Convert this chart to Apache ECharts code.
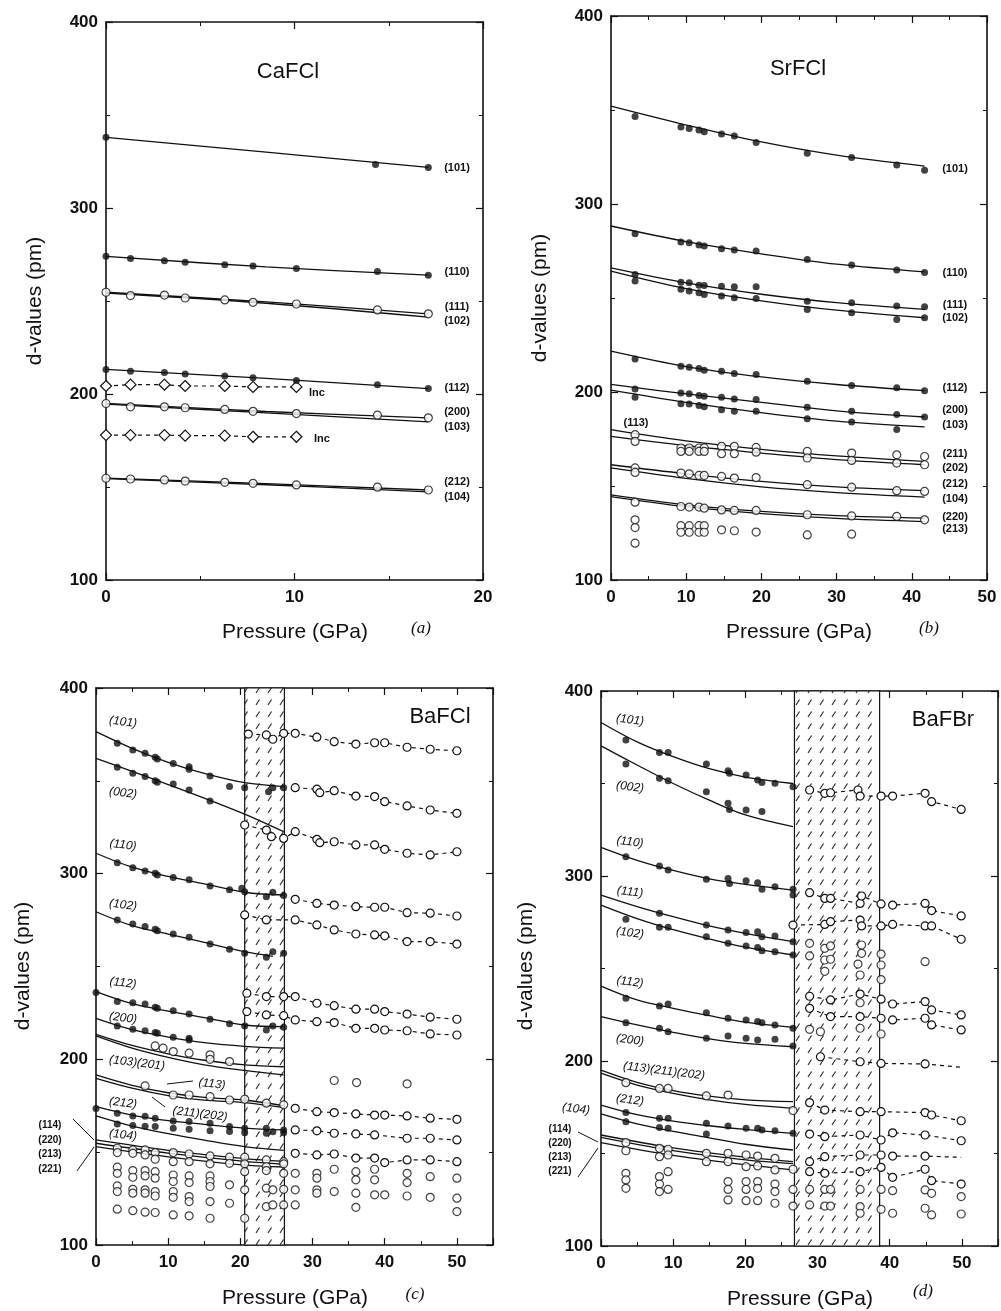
<!DOCTYPE html>
<html><head><meta charset="utf-8">
<script src="https://cdn.jsdelivr.net/npm/echarts@6/dist/echarts.min.js"></script>
<style>html,body{margin:0;padding:0;background:#fff}#c{width:1001px;height:1311px}</style>
</head><body><div id="c"></div>
<script>
// ---------------- Panel (a) CaFCl ----------------
const xA = [0, 1.3, 3.1, 4.2, 6.3, 7.8, 10.1, 14.4, 17.1];
const a101 = [[0, 338], [14.3, 323.4], [17.1, 321.8]];
const a110 = [274, 272.9, 271.6, 270.8, 269.5, 268.8, 267.5, 265.9, 263.9];
const a111 = [254.7, 252.9, 253.2, 251.6, 250.6, 249.3, 248.4, 245.2, 243.1];
const a112 = [213.2, 212.2, 211.5, 210.8, 209.7, 208.8, 207.3, 205, 202.9];
const a200 = [194.9, 193.1, 193.1, 192.6, 191.7, 190.7, 189.5, 188.6, 187.2];
const a212 = [154.7, 154.3, 153.8, 153.2, 152.5, 152, 151.1, 149.9, 148.4];
const xInc = [0, 1.3, 3.1, 4.2, 6.3, 7.8, 10.1];
const aInc1 = [204.3, 205, 205, 204.3, 204.3, 203.8, 203.8];
const aInc2 = [177.9, 177.9, 177.9, 177.6, 177.6, 177, 177];
const aFits = [
  [[0, 338], [8.5, 330], [17.1, 321.8]],
  [[0, 274], [8.5, 268.3], [17.1, 263.9]],
  [[0, 254.7], [8.5, 249.5], [17.1, 243.1]],
  [[0, 254.3], [8.5, 248.8], [17.1, 241.3]],
  [[0, 213.2], [8.5, 208.4], [17.1, 202.9]],
  [[0, 195], [8.5, 190.6], [17.1, 187.2]],
  [[0, 194.6], [8.5, 189.8], [17.1, 185]],
  [[0, 154.8], [8.5, 151.8], [17.1, 148.4]],
  [[0, 154.5], [8.5, 151.2], [17.1, 147.4]]
];

// ---------------- Panel (b) SrFCl ----------------
const xB = [3.2, 9.3, 10.4, 11.7, 12.4, 14.7, 16.4, 19.3, 26.1, 32, 38, 41.7];
const b101 = [346.6, 341.0, 340.2, 339.4, 338.4, 337.3, 336.2, 332.7, 327, 324.7, 320.8, 318];
const b110 = [284.2, 279.8, 279.4, 278.2, 277.6, 276.2, 275.5, 275, 270.5, 267.5, 264.9, 263.5];
const b111 = [262.5, 258.4, 258.1, 256.8, 256.7, 256.3, 256, 256, 248.3, 247.5, 245.7, 245.3];
const b102 = [259, 254.6, 253.7, 252.8, 251.9, 251, 250.1, 249.8, 243.9, 242.1, 238.6, 239.5];
const b112 = [217.6, 213.7, 213.2, 212.5, 211.6, 211, 209.8, 209.3, 205.7, 203.4, 202.2, 200.7];
const b200 = [201.6, 199.5, 199.1, 198.2, 197.7, 197.2, 196.3, 196, 191.9, 189.7, 188, 186.7];
const b103 = [197.2, 193.8, 193.6, 192.8, 192.1, 190.6, 189.7, 189.7, 185.8, 184.1, 180];
const b211 = [177.3, 170.2, 170.2, 170.2, 170.2, 171.1, 171.1, 170.5, 168.4, 167.5, 166.6, 165.7];
const b202 = [173.7, 168.4, 168.4, 168.4, 168.4, 167.2, 167.2, 168, 164.9, 163.6, 162.2, 161.3];
const b212 = [159.6, 156.9, 156.5, 155.6, 155.6, 155.1, 154.2, 154.5, 150.7, 149.4, 147.5, 147.1];
const b220 = [141.4, 139.1, 138.8, 138.8, 138.2, 137.3, 137, 137, 134.7, 134.1, 133.8, 132];
const bExtra = [[3.2, 157.2], [3.2, 132], [3.2, 127.9], [3.2, 119.6], [9.3, 128.9], [9.3, 125.4], [10.4, 128.9], [10.4, 125.4],
  [11.7, 128.9], [11.7, 125.4], [12.4, 128.9], [12.4, 125.4], [14.7, 126.7], [16.4, 126.2], [19.3, 125.5], [26.1, 124], [32, 124.4]];
const bFits = [
  [[0, 352], [10, 342], [20, 333], [30, 326], [41.7, 320.2]],
  [[0, 288.3], [10, 280], [20, 273.5], [30, 268], [41.7, 263.9]],
  [[0, 266], [10, 258], [20, 252], [30, 247.5], [41.7, 244]],
  [[0, 264.3], [10, 255], [20, 248.5], [30, 243.5], [41.7, 239.5]],
  [[0, 221.7], [10, 213.5], [20, 208], [30, 204], [41.7, 200.7]],
  [[0, 204], [10, 199], [20, 194.5], [30, 190], [41.7, 186.7]],
  [[0, 201], [10, 194.5], [20, 189], [30, 184.5], [41.7, 181.4]],
  [[0, 180], [10, 174], [20, 169.5], [30, 166], [41.7, 163.1]],
  [[0, 176.4], [10, 171.5], [20, 167.5], [30, 164], [41.7, 161.3]],
  [[0, 161.3], [10, 156.5], [20, 152.5], [30, 149.5], [41.7, 147.5]],
  [[0, 159.6], [10, 154], [20, 149.5], [30, 146.5], [41.7, 144.1]],
  [[0, 145.3], [10, 140], [20, 136.5], [30, 134.2], [41.7, 132.9]],
  [[0, 144.4], [10, 139], [20, 135.3], [30, 132.8], [41.7, 131.1]]
];

// ---------------- Panel (c) BaFCl ----------------
const bandC = [20.6, 26.1];
const c101 = [[2.95, 370.2], [5.1, 366.6], [6.8, 364.8], [8.2, 362.7], [8.5, 361.8], [10.7, 359.4], [12.9, 357.6], [12.9, 356.2], [15.8, 352.6], [18.5, 346.9], [20.6, 346.3], [23.9, 344.1], [24.5, 346.3], [26, 346.3]];
const c002 = [[2.95, 357.3], [5.1, 354.1], [6.8, 352.3], [8.2, 350.1], [8.5, 349.2], [10.7, 348.3], [12.9, 345.1], [15.8, 339.1]];
const c110 = [[2.95, 305.9], [5.1, 303.2], [6.8, 301.5], [8.2, 300.2], [8.5, 299.3], [10.7, 297.9], [12.9, 296.7], [15.8, 293.4], [18.5, 291.3], [20.2, 292.1], [20.6, 290.3], [23.6, 287.6], [24.5, 290], [26, 288.2]];
const c102 = [[2.95, 275.1], [5.1, 272.9], [6.8, 271.5], [8.2, 270.1], [8.5, 269.3], [10.7, 267.5], [12.9, 265.7], [15.8, 262.1], [18.5, 259.3], [20.6, 257.1], [23.6, 255], [24.5, 257.9], [26, 257.1]];
const c112 = [[0, 236], [2.95, 231.1], [5.1, 230.5], [6.8, 229.8], [8.2, 228], [8.5, 227.5], [10.7, 226.1], [12.9, 224.4], [15.8, 221.6], [18.5, 219.1], [20.6, 218], [23.6, 215.8], [24.5, 218], [26, 217.3]];
const c200 = [[2.95, 218], [5.1, 216.2], [6.8, 215.4], [8.2, 214.4], [8.5, 214], [10.7, 211.9], [12.9, 211.3], [12.9, 210.4]];
const c212 = [[0, 173.5], [2.95, 170.9], [5.1, 169.5], [6.8, 169.3], [8.2, 168.3], [10.7, 166.8], [12.9, 166.5], [15.8, 165.6], [18.5, 163.8], [20.6, 162.9], [23.6, 162.9], [26, 162]];
const c104 = [[2.95, 165.2], [5.1, 164.3], [6.8, 164], [8.2, 163.8], [10.7, 162.9], [12.9, 162.3], [15.8, 161.6], [18.5, 161.1], [20.6, 160.5], [23.6, 160.2], [24.5, 161], [26, 160.5]];
const cOpen = [[8.2, 207.2], [9.3, 206], [10.7, 204.2], [12.9, 203.3], [15.8, 202.4], [15.8, 200], [18.5, 198.8],
  [33, 188.6], [36.1, 187.5], [43.1, 186.8],
  [6.8, 185.7], [10.7, 180.8], [12.9, 180.8], [15.8, 179.9], [18.5, 178.1], [20.6, 178.5], [23.6, 176.4], [26, 175.5],
  [2.95, 152.1], [5.1, 151.2], [6.8, 151.2], [8.2, 149.8], [10.7, 149.8], [12.9, 149], [15.8, 148], [18.5, 147.3], [20.6, 147.3], [23.6, 145.8], [26, 144.9],
  [2.95, 149.8], [5.1, 149.4], [6.8, 148.5], [8.2, 146.2], [10.7, 144.9], [12.9, 144.9], [15.8, 143.7], [18.5, 144], [20.6, 143.7], [23.6, 142.2], [26, 143.7]];
const cLow = [
  [2.95, 141.9], [2.95, 138.6], [2.95, 131.8], [2.95, 128.8], [2.95, 119.3],
  [5.1, 140.1], [5.1, 136.5], [5.1, 130], [5.1, 127.9], [5.1, 118.5],
  [6.8, 140.1], [6.8, 137.2], [6.8, 129.7], [6.8, 127.9], [6.8, 117.7],
  [8.2, 139.5], [8.2, 136], [8.2, 128.8], [8.2, 126.4], [8.2, 117.5],
  [10.7, 137.7], [10.7, 134.2], [10.7, 128.8], [10.7, 125.7], [10.7, 116.2],
  [12.9, 137.2], [12.9, 133.6], [12.9, 126.1], [12.9, 123.4], [12.9, 115.7],
  [15.8, 137.2], [15.8, 134.2], [15.8, 131.5], [15.8, 123.4], [15.8, 114.4],
  [18.5, 132.4], [18.5, 122.5], [20.6, 139.5], [20.6, 129.7], [20.6, 114.4],
  [23.6, 140.1], [23.6, 130.6], [23.6, 120.7], [24.5, 129.7], [24.5, 121.6],
  [26, 138.6], [26, 130], [26, 121.6], [27.6, 138.6], [27.6, 129.7], [27.6, 121.6],
  [30.6, 138.6], [30.6, 136], [30.6, 129.7], [30.6, 127.9], [33, 140.8], [33, 128.8],
  [36, 139.5], [36, 135.1], [36, 127.9], [36, 120.3], [38.6, 140.8], [38.6, 135.1], [38.6, 127], [40, 127],
  [43.1, 138.6], [43.1, 133.6], [43.1, 126.4], [46.3, 136.8], [46.3, 125.7], [50, 136], [50, 125.2], [50, 118]];
const cDash = [
  [[21.1, 375.2], [23.6, 374.7], [24.5, 372.4], [26, 375.6], [27.6, 375.6], [30.6, 373.5], [33, 371.1], [36, 369.8], [38.6, 370.5], [40, 370.5], [43.1, 368.1], [46.3, 367], [50, 366.2]],
  [[27.6, 346.3], [30.6, 345.5], [31, 343.6], [33, 344.7], [36, 341.8], [38.6, 341.5], [40, 338.8], [43.1, 336.5], [46.3, 334.3], [50, 332.5]],
  [[20.6, 326.2], [23.6, 323.5], [24.3, 319.9], [26, 319], [27.6, 322.6], [30.6, 318.5], [31, 316.7], [33, 317.2], [36, 315.5], [38.6, 315.5], [40, 313.1], [43.1, 311], [46.3, 310.1], [50, 311.8]],
  [[27.6, 286.2], [30.6, 284], [33, 283.1], [36, 282.2], [38.6, 281.9], [40, 281.9], [43.1, 279], [46.3, 278.7], [50, 277.2]],
  [[20.6, 277.8], [23.6, 275.1], [27.6, 275.1], [30.6, 272.4], [33, 269.7], [36, 267.5], [38.6, 267], [40, 266.5], [43.1, 263.4], [46.3, 263.4], [50, 262.1]],
  [[20.9, 235.6], [23.6, 233.8], [26, 233.8], [27.6, 233.8], [30.6, 230.2], [33, 228.9], [36, 227], [38.6, 227], [40, 225.7], [43.1, 224.4], [46.3, 222.7], [50, 221.6]],
  [[20.9, 225.7], [23.6, 223.9], [26, 223.5], [27.6, 221.2], [30.6, 220.3], [33, 219.8], [36, 216.7], [38.6, 216.7], [40, 215.8], [43.1, 215.4], [46.3, 213.7], [50, 213.1]],
  [[27.6, 173.6], [30.6, 171.8], [33, 171.3], [36, 170.6], [38.6, 170], [40, 170], [43.1, 169.5], [46.3, 168.3], [50, 167.7]],
  [[27.6, 162], [30.6, 161.5], [33, 160.2], [36, 159.8], [38.6, 159.3], [43.1, 157.5], [46.3, 157.5], [50, 156.6]],
  [[27.6, 149.4], [30.6, 148.5], [33, 149], [36, 146.8], [38.6, 146.8], [40, 144.4], [43.1, 145.8], [46.3, 145.8], [50, 144.9]]
];
const cFits = [
  [[0, 376.5], [5, 367.5], [10, 360], [15, 354], [20.6, 349], [26, 346.9]],
  [[0, 362.1], [10, 348], [20, 333], [26, 322.6]],
  [[0, 311], [5, 303.5], [10, 298.5], [15, 294.5], [20.6, 290], [26, 288.5]],
  [[0, 279.5], [5, 272], [10, 267.5], [15, 263], [20.6, 258], [24.5, 255.5]],
  [[0, 236.5], [5, 230], [10, 226], [15, 222.5], [20.6, 218.5], [26, 217.6]],
  [[0, 222.1], [5, 216], [10, 212], [15, 209], [20.6, 207], [26, 206]],
  [[0, 213.5], [5, 207.5], [10, 203], [15, 199.5], [20.6, 197], [26, 196]],
  [[0, 212.6], [5, 206], [10, 201], [15, 197], [20.6, 194], [26, 191.6]],
  [[0, 191.6], [5, 186], [10, 182], [15, 179.5], [20.6, 178.1], [26, 175]],
  [[0, 189.8], [5, 184.5], [10, 180.5], [15, 178], [20.6, 176.7], [26, 174]],
  [[0, 174.5], [5, 170], [10, 167], [15, 165], [20.6, 163], [26, 162]],
  [[0, 169.5], [5, 164], [10, 160], [15, 156.5], [20.6, 153], [26, 151]],
  [[0, 156.6], [10, 151], [20.6, 146.5], [26, 145]],
  [[0, 154.8], [10, 149.5], [20.6, 145], [26, 143.5]],
  [[0, 153], [10, 147.5], [20.6, 143], [26, 142]]
];

// ---------------- Panel (d) BaFBr ----------------
const bandD = [26.8, 38.6];
const d101 = [[3.45, 373.5], [8.1, 366.7], [9.3, 366.7], [14.6, 360.5], [17.6, 356.9], [17.8, 355.5], [20.1, 354.6], [21.7, 351.9], [22.3, 350.5], [24.1, 350.1], [26.6, 348.3]];
const d002 = [[3.45, 360.5], [8.1, 352.8], [9.3, 351.5], [14.6, 345.6], [17.6, 339.3], [17.8, 336], [20.1, 335.7], [22.3, 334.8]];
const d110 = [[3.45, 310.4], [8.1, 305.4], [9.3, 303.2], [14.6, 298.2], [17.6, 298.7], [17.8, 296], [20.1, 297.5], [21.7, 296.4], [22.3, 292.8], [24.1, 294.2], [26.6, 292.8], [26.6, 289.7]];
const d111 = [[8.1, 279.8], [14.6, 273.5], [17.6, 270.8], [20.1, 269.4], [21.7, 269.9], [22.3, 267.2], [24.1, 267.6], [26.6, 264.5]];
const d102 = [[3.45, 276.6], [8.1, 272.3], [9.3, 272.3], [14.6, 267.2], [17.6, 263.6], [20.1, 262.2], [21.7, 261.4], [22.3, 259.6], [24.1, 259.1], [26.6, 257.3]];
const d112 = [[3.45, 233.9], [8.1, 229.7], [9.3, 230.8], [14.6, 226.1], [17.6, 223.1], [20.1, 222.2], [21.7, 221.3], [22.3, 220.7], [24.1, 219.5], [26.6, 217.7]];
const d200 = [[3.45, 220.7], [8.1, 217.7], [9.3, 215.8], [14.6, 212.3], [17.6, 213.5], [20.1, 212.3], [21.7, 211.4], [24.1, 211.7], [26.6, 208.1]];
const d212 = [[3.45, 172.1], [8.1, 169], [9.3, 169], [14.6, 166.3], [17.6, 164.9], [20.1, 163.6], [21.7, 163.6], [22.3, 162.7], [24.1, 162.3], [26.6, 160.9]];
const d104 = [[3.45, 167.2], [8.1, 164.1], [9.3, 163.6], [14.6, 160.5]];
const dOpen = [[28.9, 263.6], [28.9, 256.8], [31, 260.9], [31.8, 262.2], [31, 254.6], [31.8, 255], [36.1, 262.7], [36.1, 258.2], [35.6, 252.4], [38.8, 257.8], [38.8, 251.9], [44.9, 253.7],
  [31, 248.5], [35.9, 246.5], [38.8, 244],
  [28.9, 217.1], [30.4, 215.8], [35.9, 217.7], [38.8, 214.6], [35.9, 231.5],
  [3.45, 188.3], [8.1, 185.2], [9.3, 185.2], [14.6, 181.1], [17.6, 181.6], [26.6, 173.2],
  [3.45, 155.9], [3.45, 151.5], [8.1, 152.8], [8.1, 148.3], [9.3, 152.3], [9.3, 149.2], [14.6, 150.1], [14.6, 145.6], [17.6, 150.1], [17.6, 145.6],
  [20.1, 149.2], [20.1, 142.9], [21.7, 148.6], [21.7, 143.3], [24.1, 147.4], [24.1, 141.1], [26.6, 141.5]];
const dLow = [
  [3.45, 139.3], [3.45, 135.7], [3.45, 131.2], [8.1, 137.5], [8.1, 133.5], [8.1, 129.4], [9.3, 140.2], [9.3, 130.6],
  [17.6, 134.8], [17.6, 130.6], [17.6, 124.9], [20.1, 134.8], [20.1, 130.6], [20.1, 124.5], [21.7, 134.8], [21.7, 131.2], [21.7, 124.5],
  [24.1, 133.5], [24.1, 129.4], [24.1, 123.1], [26.6, 130.6], [26.6, 121.6], [28.9, 130.6], [28.9, 122.2], [31, 130.6], [31, 121.6],
  [31.8, 130.6], [31.8, 121.6], [35.9, 130.6], [35.9, 121.3], [35.9, 117.7], [38.8, 130.6], [38.8, 119.8], [40.4, 129.9], [40.4, 117.7],
  [44.9, 130.3], [44.9, 120.4], [45.8, 128.5], [45.8, 116.8], [49.9, 126.7], [49.9, 117.3]];
const dDash = [
  [[28.9, 346.5], [31, 344.7], [31.8, 345], [35.6, 346.5], [35.9, 343.2], [38.8, 343.2], [40.4, 343.2], [44.9, 344.7], [45.8, 340.2], [49.9, 336]],
  [[28.9, 291], [31, 287.9], [31.8, 287.9], [35.9, 285.2], [36.1, 289.2], [38.8, 284.9], [40.4, 284.3], [44.9, 285.2], [45.8, 281.3], [49.9, 278.4]],
  [[26.6, 273.5], [31, 273.8], [31.8, 275.3], [35.9, 276.2], [36.1, 273], [38.8, 273], [40.4, 273.8], [44.9, 273], [45.8, 273], [49.9, 265.8]],
  [[28.9, 235], [31.8, 233], [35.9, 236.2], [38.8, 233.4], [40.4, 230.8], [44.9, 232.1], [45.8, 227.6], [49.9, 224.9]],
  [[28.9, 228.5], [31.8, 224], [35.9, 224], [38.8, 223.1], [40.4, 222.2], [44.9, 223.1], [45.8, 219.5], [49.9, 216.8]],
  [[30.4, 202.3], [35.9, 199.6], [38.8, 198.7], [44.9, 198.4], [49.9, 196.6, 0]],
  [[28.9, 177.5], [31, 173.5], [35.9, 172.6], [38.8, 172.6], [44.9, 172.1], [45.8, 170.8], [49.9, 167.7]],
  [[28.9, 160.5], [31, 159.1], [35.9, 160], [38.8, 157.3], [40.4, 161.2], [44.9, 160], [49.9, 156.9]],
  [[28.9, 145.6], [31, 148.3], [35.9, 149.2], [38.8, 149.2], [40.4, 148.6], [44.9, 148.6], [49.9, 147.9, 0]],
  [[28.9, 140.2], [31, 139.3], [35.9, 140.2], [38.8, 142.5], [40.4, 137.1], [44.9, 141.5], [45.8, 135.3], [49.9, 133.5]]
];
const dFits = [
  [[0, 383], [5, 372.5], [10, 364.5], [15, 358], [20, 353.5], [26.6, 350]],
  [[0, 370.3], [5, 360], [10, 350], [15, 341], [20, 333], [26.6, 326.7]],
  [[0, 315.5], [5, 308.5], [10, 303], [15, 298.5], [20, 295.5], [26.6, 292.4]],
  [[0, 289.7], [5, 283.5], [10, 278], [15, 273], [20, 269], [26.6, 264.5]],
  [[0, 284.3], [5, 277], [10, 271], [15, 266], [20, 261.5], [26.6, 257.3]],
  [[0, 240.5], [5, 233], [10, 228.5], [15, 224.5], [20, 221], [26.6, 218.2]],
  [[0, 224], [5, 219.5], [10, 215.5], [15, 212], [20, 209.5], [26.6, 207.7]],
  [[0, 195.1], [5, 188.5], [10, 184], [15, 181], [20, 179], [26.6, 178]],
  [[0, 193.4], [5, 187], [10, 182.5], [15, 179], [20, 176.5], [26.6, 174.4]],
  [[0, 176.2], [5, 171], [10, 167.5], [15, 165], [20, 163], [26.6, 160.9]],
  [[0, 171.4], [5, 166], [10, 162], [15, 158.5], [20, 155], [26.6, 151.9]],
  [[0, 160], [10, 153], [20, 148], [26.6, 145.6]],
  [[0, 158.7], [10, 151.5], [20, 146.5], [26.6, 144.5]],
  [[0, 155.9], [10, 149], [20, 144], [26.6, 141.1]]
];

// ---------------- helpers ----------------
const zip = (xs, ys) => ys.map((y, i) => [xs[i], y]);
const INK = '#111';
const S = [];
function ax(p) { return { xAxisIndex: 2 * p, yAxisIndex: 2 * p }; }
function fit(p, d) {
  S.push(Object.assign({ type: 'line', data: d, smooth: 0.35, symbol: 'none', silent: true, z: 2,
    lineStyle: { color: INK, width: 1.3 } }, ax(p)));
}
function dots(p, d, size) {
  S.push(Object.assign({ type: 'scatter', data: d, symbol: 'circle', symbolSize: size || 7, z: 5,
    itemStyle: { color: INK } }, ax(p)));
}
function rings(p, d, size) {
  S.push(Object.assign({ type: 'scatter', data: d, symbol: 'circle', symbolSize: size || 8, z: 4,
    itemStyle: { color: '#fff', borderColor: INK, borderWidth: 1.2 } }, ax(p)));
}
function dashed(p, d, sym, size) {
  const data = d.map(v => v.length > 2 ? { value: [v[0], v[1]], symbol: 'none' } : v);
  S.push(Object.assign({ type: 'line', data: data, symbol: sym || 'circle', symbolSize: size || 8, showAllSymbol: true, z: 3,
    itemStyle: { color: '#fff', borderColor: INK, borderWidth: 1.2 },
    lineStyle: { color: INK, width: 1.2, type: [4, 4] } }, ax(p)));
}

// hatch pattern
const pc = document.createElement('canvas'); pc.width = 12; pc.height = 12;
const g2 = pc.getContext('2d'); g2.fillStyle = '#fff'; g2.fillRect(0, 0, 12, 12);
g2.strokeStyle = '#222'; g2.lineWidth = 1.1; g2.beginPath(); g2.moveTo(4, 9); g2.lineTo(7.5, 3.5); g2.stroke();
function band(p, b) {
  S.push(Object.assign({ type: 'line', data: [[b[0], 100]], symbol: 'none', lineStyle: { opacity: 0 }, z: 1, silent: true,
    markArea: { silent: true, itemStyle: { color: { image: pc, repeat: 'repeat' }, borderColor: INK, borderWidth: 1.2 },
      data: [[{ xAxis: b[0] }, { xAxis: b[1] }]] } }, ax(p)));
}

// ---- panel a series
aFits.forEach(f => fit(0, f));
dots(0, a101); dots(0, zip(xA, a110)); dots(0, zip(xA, a112));
rings(0, zip(xA, a111)); rings(0, zip(xA, a200)); rings(0, zip(xA, a212));
dashed(0, zip(xInc, aInc1), 'diamond', 11); dashed(0, zip(xInc, aInc2), 'diamond', 11);
// ---- panel b
bFits.forEach(f => fit(1, f));
[b101, b110, b111, b102, b112, b200].forEach(v => dots(1, zip(xB, v)));
dots(1, zip(xB, b103));
[b211, b202, b212, b220].forEach(v => rings(1, zip(xB, v)));
rings(1, bExtra);
// ---- panel c
band(2, bandC);
cFits.forEach(f => fit(2, f));
cDash.forEach(d => dashed(2, d));
rings(2, cOpen); rings(2, cLow);
[c101, c002, c110, c102, c112, c200, c212, c104].forEach(d => dots(2, d));
// ---- panel d
band(3, bandD);
dFits.forEach(f => fit(3, f));
dDash.forEach(d => dashed(3, d));
rings(3, dOpen); rings(3, dLow);
[d101, d002, d110, d111, d102, d112, d200, d212, d104].forEach(d => dots(3, d));

// ---------------- axes ----------------
const grids = [
  { left: 106, top: 22, width: 377, height: 558 },
  { left: 611, top: 16, width: 376, height: 564 },
  { left: 96, top: 688, width: 397, height: 557 },
  { left: 601, top: 691, width: 397, height: 555 }
];
const xMax = [20, 50, 55, 55];
const xAxes = [], yAxes = [];
grids.forEach((gr, p) => {
  const common = { type: 'value', gridIndex: p, min: 0, max: xMax[p], interval: 10,
    axisLine: { show: true, onZero: false, lineStyle: { color: INK, width: 1.6 } },
    axisTick: { inside: true, length: 7, lineStyle: { color: INK, width: 1.2 } },
    minorTick: { show: true, splitNumber: 2, length: 4, lineStyle: { color: INK, width: 1 } },
    splitLine: { show: false } };
  xAxes.push(Object.assign({}, common, { position: 'bottom',
    axisLabel: { color: INK, fontSize: 17, fontWeight: 'bold', fontFamily: 'Liberation Sans', margin: 9, showMaxLabel: xMax[p] % 10 === 0 } }));
  xAxes.push(Object.assign({}, common, { position: 'top', axisLabel: { show: false } }));
  const yc = { type: 'value', gridIndex: p, min: 100, max: 400, interval: 100,
    axisLine: { show: true, onZero: false, lineStyle: { color: INK, width: 1.6 } },
    axisTick: { inside: true, length: 7, lineStyle: { color: INK, width: 1.2 } },
    minorTick: { show: true, splitNumber: 2, length: 4, lineStyle: { color: INK, width: 1 } },
    splitLine: { show: false } };
  yAxes.push(Object.assign({}, yc, { position: 'left',
    axisLabel: { color: INK, fontSize: 17, fontWeight: 'bold', fontFamily: 'Liberation Sans', margin: 8 } }));
  yAxes.push(Object.assign({}, yc, { position: 'right', axisLabel: { show: false } }));
});

// ---------------- annotations ----------------
const G = [];
function txt(x, y, t, font, rot) {
  G.push({ type: 'text', x: x, y: y, rotation: rot || 0, z: 50,
    style: { text: t, fill: INK, font: font, align: 'center', verticalAlign: 'middle' } });
}
function seg(x1, y1, x2, y2) {
  G.push({ type: 'line', z: 50, shape: { x1: x1, y1: y1, x2: x2, y2: y2 }, style: { stroke: INK, lineWidth: 1 } });
}
const FT = '22px "Liberation Sans"';
const FA = '21px "Liberation Sans"';
const FP = 'italic 17px "Liberation Serif"';
const FH = 'bold 11px "Liberation Sans"';
const FI = 'italic 12px "Liberation Sans"';
// titles and axis names
txt(288, 72, 'CaFCl', FT); txt(798, 69, 'SrFCl', FT); txt(440, 717, 'BaFCl', FT); txt(943, 720, 'BaFBr', FT);
[[295, 632, 421, 629, 'a'], [799, 632, 929, 629, 'b'], [295, 1298, 415, 1295, 'c'], [800, 1299, 923, 1292, 'd']].forEach(r => {
  txt(r[0], r[1], 'Pressure (GPa)', FA); txt(r[2], r[3], '(' + r[4] + ')', FP);
});
[[35, 301], [540, 298], [23, 966], [526, 966]].forEach(r => txt(r[0], r[1], 'd-values (pm)', FA, Math.PI / 2));
// panel a labels
[['(101)', 168], ['(110)', 272], ['(111)', 307], ['(102)', 321], ['(112)', 388], ['(200)', 412], ['(103)', 427], ['(212)', 482], ['(104)', 497]]
  .forEach(r => txt(457, r[1], r[0], FH));
txt(317, 393, 'Inc', FH); txt(322, 439, 'Inc', FH);
// panel b labels
[['(101)', 169], ['(110)', 273], ['(111)', 305], ['(102)', 318], ['(112)', 388], ['(200)', 410], ['(103)', 425], ['(211)', 454], ['(202)', 468],
 ['(212)', 484], ['(104)', 499], ['(220)', 517], ['(213)', 529]].forEach(r => txt(955, r[1], r[0], FH));
txt(636, 423, '(113)', FH);
// panel c labels
const RT = -0.12;
[['(101)', 722], ['(002)', 793], ['(110)', 845], ['(102)', 905], ['(112)', 983], ['(200)', 1018], ['(212)', 1103], ['(104)', 1135]]
  .forEach(r => txt(123, r[1], r[0], FI, RT));
txt(137, 1063, '(103)(201)', FI, RT);
txt(212, 1084, '(113)', FI, RT); seg(193, 1081, 167, 1084);
txt(200, 1114, '(211)(202)', FI, RT); seg(165, 1107, 152, 1097);
[['(114)', 1125], ['(220)', 1140], ['(213)', 1154], ['(221)', 1169]].forEach(r => txt(50, r[1], r[0], 'bold 10px "Liberation Sans"'));
seg(73, 1119, 94, 1140); seg(94, 1147, 77, 1171);
// panel d labels
[['(101)', 720], ['(002)', 787], ['(110)', 842], ['(111)', 892], ['(102)', 933], ['(112)', 982], ['(200)', 1040], ['(212)', 1100]]
  .forEach(r => txt(630, r[1], r[0], FI, RT));
txt(664, 1071, '(113)(211)(202)', FI, RT);
txt(576, 1109, '(104)', FI, RT);
[['(114)', 1129], ['(220)', 1143], ['(213)', 1157], ['(221)', 1171]].forEach(r => txt(560, r[1], r[0], 'bold 10px "Liberation Sans"'));
seg(578, 1132, 598, 1142); seg(598, 1148, 578, 1177);

const chart = echarts.init(document.getElementById('c'), null, { renderer: 'canvas' });
chart.setOption({
  animation: false,
  backgroundColor: '#fff',
  grid: grids,
  xAxis: xAxes,
  yAxis: yAxes,
  series: S,
  graphic: G
});
</script>
</body></html>
